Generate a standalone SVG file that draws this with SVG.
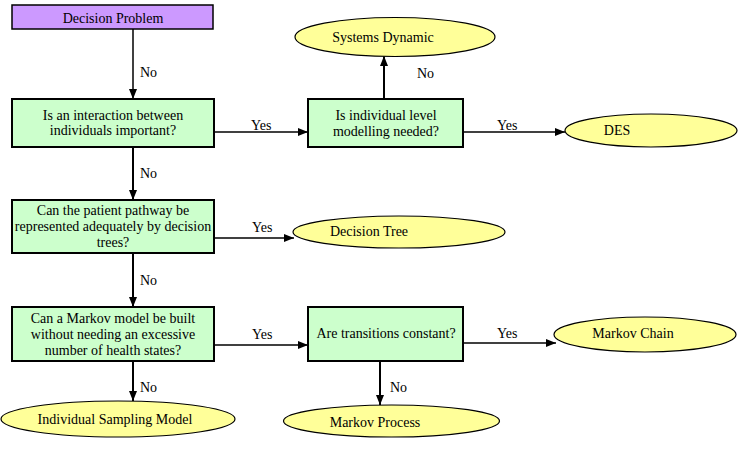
<svg xmlns="http://www.w3.org/2000/svg" width="746" height="449" viewBox="0 0 746 449">
<style>
.box{fill:#CCFFCC;stroke:#000;stroke-width:2}
.start{fill:#CC99FF;stroke:#000;stroke-width:1.5}
.term{fill:#FFFF99;stroke:#000;stroke-width:1.2}
text{font-family:Liberation Serif, Times New Roman, Times, serif;font-size:14px;fill:#000}
.c{text-anchor:middle}
.con{stroke:#000;stroke-width:2;fill:none;marker-end:url(#ah)}
.thin{stroke-width:1.5}
</style>
<defs>
<marker id="ah" viewBox="0 0 10 8" refX="10" refY="4" markerWidth="10" markerHeight="8" markerUnits="userSpaceOnUse" orient="auto">
<path d="M0,0 L10,4 L0,8 z" fill="#000"/>
</marker>
</defs>
<rect width="746" height="449" fill="#fff"/>
<g id="connectors">
<line class="con thin" x1="133" y1="29" x2="133" y2="99"/>
<line class="con" x1="133" y1="147" x2="133" y2="200"/>
<line class="con thin" x1="214" y1="132" x2="308" y2="132"/>
<line class="con" x1="384" y1="99" x2="384" y2="56"/>
<line class="con thin" x1="463" y1="132" x2="565" y2="132"/>
<line class="con thin" x1="214" y1="238" x2="294" y2="238"/>
<line class="con" x1="133" y1="253" x2="133" y2="307"/>
<line class="con thin" x1="214" y1="345" x2="308" y2="345"/>
<line class="con" x1="133" y1="361" x2="133" y2="401"/>
<line class="con thin" x1="463" y1="343" x2="556" y2="343"/>
<line class="con" x1="380" y1="361" x2="380" y2="405"/>
<text x="140" y="77">No</text>
<text x="140" y="178">No</text>
<text x="251" y="130">Yes</text>
<text x="417" y="78">No</text>
<text x="497" y="130">Yes</text>
<text x="252" y="232">Yes</text>
<text x="140" y="285">No</text>
<text x="252" y="339">Yes</text>
<text x="140" y="392">No</text>
<text x="497" y="338">Yes</text>
<text x="390" y="392">No</text>
</g>
<g id="decision-problem">
<rect class="start" x="12" y="5" width="201" height="24"/>
<text class="c" x="113" y="23">Decision Problem</text>
</g>
<g id="q-interaction">
<rect class="box" x="12" y="99" width="202" height="48"/>
<text class="c" x="113" y="120">Is an interaction between</text>
<text class="c" x="113" y="135">individuals important?</text>
</g>
<g id="q-individual">
<rect class="box" x="308" y="99" width="155" height="48"/>
<text class="c" x="386" y="120">Is individual level</text>
<text class="c" x="386" y="136">modelling needed?</text>
</g>
<g id="systems-dynamic">
<ellipse class="term" cx="395" cy="37" rx="100" ry="19.5"/>
<text class="c" x="383" y="42">Systems Dynamic</text>
</g>
<g id="des">
<ellipse class="term" cx="651" cy="130.5" rx="86" ry="16.5"/>
<text class="c" x="617" y="135">DES</text>
</g>
<g id="q-pathway">
<rect class="box" x="12" y="200" width="202" height="53"/>
<text class="c" x="113" y="215">Can the patient pathway be</text>
<text class="c" x="113" y="231">represented adequately by decision</text>
<text class="c" x="113" y="247">trees?</text>
</g>
<g id="decision-tree">
<ellipse class="term" cx="399" cy="232" rx="106" ry="16"/>
<text class="c" x="369" y="236">Decision Tree</text>
</g>
<g id="q-markov">
<rect class="box" x="12" y="307" width="202" height="54"/>
<text class="c" x="113" y="323">Can a Markov model be built</text>
<text class="c" x="113" y="339">without needing an excessive</text>
<text class="c" x="113" y="355">number of health states?</text>
</g>
<g id="q-transitions">
<rect class="box" x="308" y="307" width="155" height="54"/>
<text class="c" x="386" y="338">Are transitions constant?</text>
</g>
<g id="markov-chain">
<ellipse class="term" cx="645" cy="334.5" rx="91" ry="17.5"/>
<text class="c" x="633" y="338">Markov Chain</text>
</g>
<g id="markov-process">
<ellipse class="term" cx="391.5" cy="421" rx="108" ry="16"/>
<text class="c" x="375" y="427">Markov Process</text>
</g>
<g id="individual-sampling">
<ellipse class="term" cx="118" cy="419" rx="117" ry="18"/>
<text class="c" x="115" y="424">Individual Sampling Model</text>
</g>
</svg>
